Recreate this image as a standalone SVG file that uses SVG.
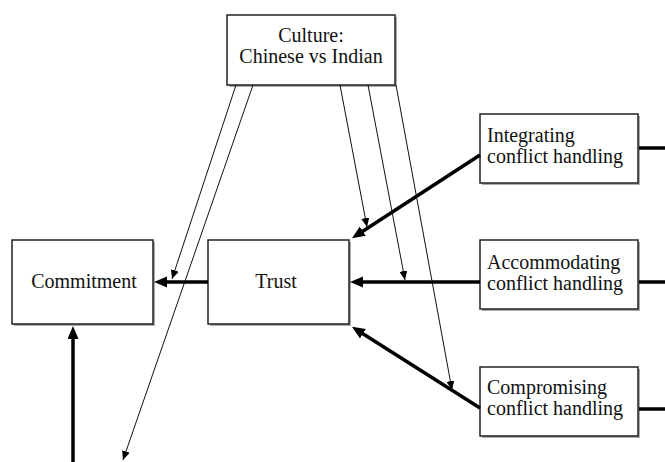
<svg xmlns="http://www.w3.org/2000/svg" width="665" height="462" viewBox="0 0 665 462">
<style>
.box{fill:#fff;stroke:#222;stroke-width:1.5}
.shadow{fill:#888;opacity:0.7}
.t{font-family:"Liberation Serif","Times New Roman",serif;font-size:20px;fill:#111}
.thin{stroke:#111;stroke-width:1;fill:none}
.thick{stroke:#000;stroke-width:3.5;fill:none}
</style>
<defs>
<marker id="ah" markerUnits="userSpaceOnUse" markerWidth="10" markerHeight="8" refX="9" refY="4" orient="auto">
<path d="M0,0 L9,4 L0,8 z" fill="#000"/>
</marker>
<marker id="ahk" markerUnits="userSpaceOnUse" markerWidth="14" markerHeight="12" refX="7" refY="5.5" orient="auto">
<path d="M0,0 L13,5.5 L0,11 z" fill="#000"/>
</marker>
</defs>

<g id="culture">
<rect class="shadow" x="229" y="17" width="168" height="70"/>
<rect class="box" x="227" y="15" width="168" height="70"/>
<text class="t" x="311" y="42" text-anchor="middle">Culture:</text>
<text class="t" x="311" y="63" text-anchor="middle">Chinese vs Indian</text>
</g>

<g id="commitment">
<rect class="shadow" x="14" y="242" width="141" height="84"/>
<rect class="box" x="12" y="240" width="141" height="84"/>
<text class="t" x="84" y="288" text-anchor="middle">Commitment</text>
</g>

<g id="trust">
<rect class="shadow" x="210" y="242" width="141" height="84"/>
<rect class="box" x="208" y="240" width="141" height="84"/>
<text class="t" x="276" y="288" text-anchor="middle">Trust</text>
</g>

<g id="integrating">
<rect class="shadow" x="482" y="116" width="158" height="69"/>
<rect class="box" x="480" y="114" width="158" height="69"/>
<text class="t" x="487" y="142">Integrating</text>
<text class="t" x="487" y="163">conflict handling</text>
</g>

<g id="accommodating">
<rect class="shadow" x="482" y="242" width="158" height="69"/>
<rect class="box" x="480" y="240" width="158" height="69"/>
<text class="t" x="487" y="269">Accommodating</text>
<text class="t" x="487" y="290">conflict handling</text>
</g>

<g id="compromising">
<rect class="shadow" x="482" y="369" width="158" height="69"/>
<rect class="box" x="480" y="367" width="158" height="69"/>
<text class="t" x="487" y="394">Compromising</text>
<text class="t" x="487" y="415">conflict handling</text>
</g>

<g id="connectors">
<line class="thick" x1="208" y1="282" x2="160" y2="282" marker-end="url(#ahk)"/>
<line class="thick" x1="480" y1="282" x2="356" y2="282" marker-end="url(#ahk)"/>
<line class="thick" x1="480" y1="155" x2="357" y2="235" marker-end="url(#ahk)"/>
<line class="thick" x1="480" y1="408" x2="357" y2="330" marker-end="url(#ahk)"/>
<line class="thick" x1="73" y1="462" x2="73" y2="332" marker-end="url(#ahk)"/>
<line class="thick" x1="639" y1="148" x2="665" y2="148"/>
<line class="thick" x1="639" y1="282" x2="665" y2="282"/>
<line class="thick" x1="639" y1="409" x2="665" y2="409"/>

<line class="thin" x1="236" y1="85" x2="172" y2="279" marker-end="url(#ah)"/>
<line class="thin" x1="253" y1="85" x2="123" y2="460" marker-end="url(#ah)"/>
<line class="thin" x1="340" y1="85" x2="367" y2="227" marker-end="url(#ah)"/>
<line class="thin" x1="368" y1="85" x2="405" y2="280" marker-end="url(#ah)"/>
<line class="thin" x1="396" y1="85" x2="452" y2="390" marker-end="url(#ah)"/>
</g>
</svg>
